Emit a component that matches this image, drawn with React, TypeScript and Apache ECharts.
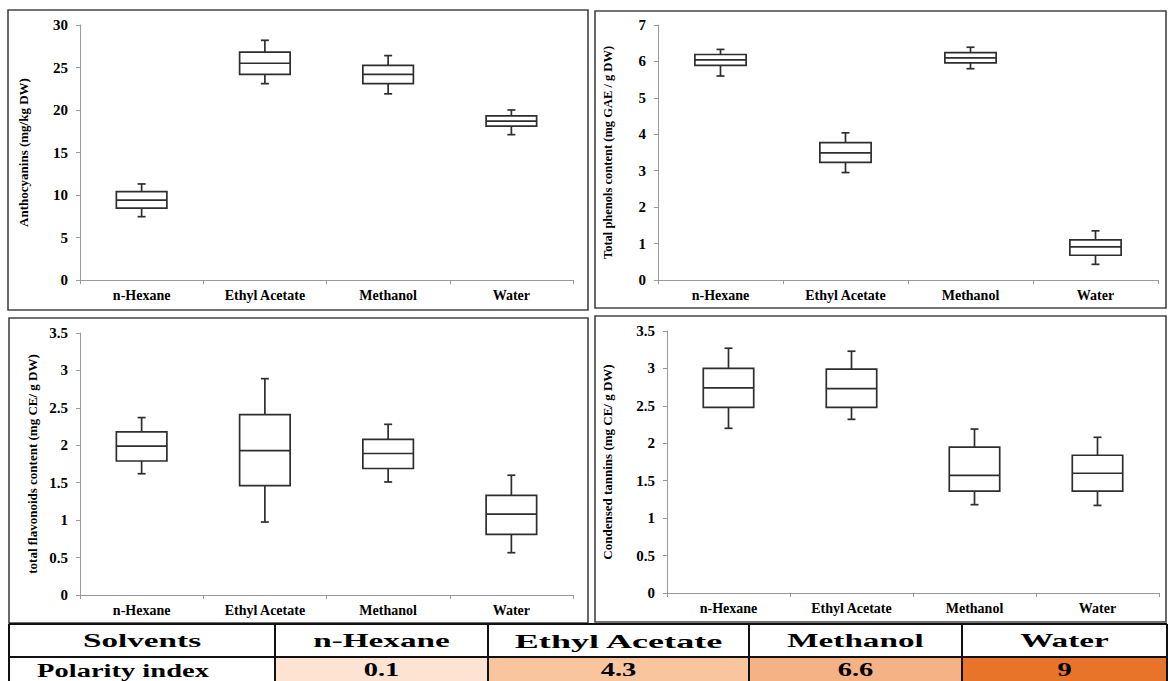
import React, { useEffect, useRef } from "react";
import * as echarts from "echarts";

const categories = ["n-Hexane", "Ethyl Acetate", "Methanol", "Water"];

// each row: [min, Q1, median, Q3, max]
const anthocyanins = [
  [7.45, 8.45, 9.4, 10.4, 11.3],
  [23.1, 24.2, 25.5, 26.8, 28.2],
  [21.9, 23.1, 24.2, 25.25, 26.4],
  [17.1, 18.1, 18.7, 19.3, 20.0],
];
const phenols = [
  [5.6, 5.89, 6.04, 6.19, 6.33],
  [2.95, 3.23, 3.49, 3.77, 4.04],
  [5.8, 5.96, 6.1, 6.24, 6.39],
  [0.43, 0.68, 0.91, 1.1, 1.35],
];
const flavonoids = [
  [1.62, 1.79, 1.99, 2.18, 2.37],
  [0.975, 1.46, 1.93, 2.41, 2.89],
  [1.51, 1.69, 1.89, 2.08, 2.28],
  [0.565, 0.81, 1.08, 1.33, 1.6],
];
const tannins = [
  [2.2, 2.48, 2.74, 3.0, 3.27],
  [2.32, 2.48, 2.73, 2.99, 3.23],
  [1.18, 1.36, 1.57, 1.95, 2.19],
  [1.17, 1.36, 1.6, 1.84, 2.08],
];

const panelData = [anthocyanins, phenols, flavonoids, tannins];
const yMaxes = [30, 7, 3.5, 3.5];
const yIntervals = [5, 1, 0.5, 0.5];
const yNames = [
  "Anthocyanins (mg/kg DW)",
  "Total phenols content (mg GAE / g DW)",
  "total flavonoids content (mg CE/ g DW)",
  "Condensed tannins (mg CE/ g DW)",
];

const tableHeader = ["Solvents", ...categories];
const polarityLabel = "Polarity index";
const polarityIndex = ["0.1", "4.3", "6.6", "9"];
const polarityColors = ["#FCE3D2", "#F8C59F", "#F4B285", "#E8742A"];

// layout
const grids = [
  { left: 80, top: 25, width: 493, height: 255 },
  { left: 658, top: 25, width: 500, height: 255 },
  { left: 80, top: 333, width: 493, height: 262 },
  { left: 667, top: 331, width: 492, height: 262 },
];
const nameGaps = [50, 44, 41, 53];
const nameSizes = [13, 12.5, 13, 13];
const panels = [
  { x: 8, y: 10, w: 580, h: 300 },
  { x: 595, y: 11, w: 571, h: 297 },
  { x: 9, y: 318, w: 579, h: 305 },
  { x: 595, y: 316, w: 571, h: 306 },
];
const colX = [9, 275, 488, 749, 962, 1167];
const rowY = [624, 657, 681];

const STROKE = "#2e2e2e";
const SERIF = "Liberation Serif";

function renderBox(params: any, api: any) {
  const cat = api.value(0);
  const lo = api.coord([cat, api.value(1)]);
  const q1 = api.coord([cat, api.value(2)]);
  const med = api.coord([cat, api.value(3)]);
  const q3 = api.coord([cat, api.value(4)]);
  const hi = api.coord([cat, api.value(5)]);
  const band = api.size([1, 0])[0];
  const bw = band * 0.41;
  const cap = 8;
  const x = lo[0];
  const style = { stroke: STROKE, lineWidth: 1.7, fill: null };
  return {
    type: "group",
    children: [
      { type: "line", shape: { x1: x, y1: q3[1], x2: x, y2: hi[1] }, style },
      { type: "line", shape: { x1: x - cap / 2, y1: hi[1], x2: x + cap / 2, y2: hi[1] }, style },
      { type: "line", shape: { x1: x, y1: q1[1], x2: x, y2: lo[1] }, style },
      { type: "line", shape: { x1: x - cap / 2, y1: lo[1], x2: x + cap / 2, y2: lo[1] }, style },
      {
        type: "rect",
        shape: { x: x - bw / 2, y: q3[1], width: bw, height: q1[1] - q3[1] },
        style: { stroke: STROKE, lineWidth: 1.7, fill: "#fff" },
      },
      { type: "line", shape: { x1: x - bw / 2, y1: med[1], x2: x + bw / 2, y2: med[1] }, style },
    ],
  };
}

function buildOption() {
  const grid = grids.map((g) => ({ ...g, containLabel: false }));
  const xAxis = grids.map((_, i) => ({
    type: "category",
    gridIndex: i,
    data: categories,
    axisLine: { show: true, lineStyle: { color: "#999", width: 1 } },
    axisTick: { show: true, length: 4, lineStyle: { color: "#999" } },
    axisLabel: {
      color: "#000",
      fontFamily: SERIF,
      fontWeight: "bold",
      fontSize: 14,
      margin: 8,
      interval: 0,
    },
    splitLine: { show: false },
  }));
  const yAxis = grids.map((_, i) => ({
    type: "value",
    gridIndex: i,
    min: 0,
    max: yMaxes[i],
    interval: yIntervals[i],
    name: yNames[i],
    nameLocation: "middle",
    nameRotate: 90,
    nameGap: nameGaps[i],
    nameTextStyle: {
      color: "#000",
      fontFamily: SERIF,
      fontWeight: "bold",
      fontSize: nameSizes[i],
    },
    axisLine: { show: true, lineStyle: { color: "#999", width: 1 } },
    axisTick: { show: true, length: 4, lineStyle: { color: "#999" } },
    axisLabel: {
      color: "#000",
      fontFamily: SERIF,
      fontWeight: "bold",
      fontSize: 15,
      margin: 12,
    },
    splitLine: { show: false },
  }));
  const series = panelData.map((rows, i) => ({
    type: "custom",
    xAxisIndex: i,
    yAxisIndex: i,
    renderItem: renderBox,
    encode: { x: 0, y: [1, 2, 3, 4, 5] },
    data: rows.map((r, k) => [k, ...r]),
    silent: true,
  }));

  const graphic: any[] = [];
  panels.forEach((p) => {
    graphic.push({
      type: "rect",
      shape: { x: p.x, y: p.y, width: p.w, height: p.h },
      style: { fill: null, stroke: "#444", lineWidth: 1.6 },
      silent: true,
    });
  });
  // table fills
  graphic.push({
    type: "rect",
    shape: { x: colX[0], y: rowY[0], width: colX[5] - colX[0], height: rowY[2] - rowY[0] },
    style: { fill: "#fff" },
    silent: true,
  });
  polarityColors.forEach((c, k) => {
    graphic.push({
      type: "rect",
      shape: { x: colX[k + 1], y: rowY[1], width: colX[k + 2] - colX[k + 1], height: rowY[2] - rowY[1] + 2 },
      style: { fill: c },
      silent: true,
    });
  });
  // table lines
  const lineStyle = { stroke: "#111", lineWidth: 2 };
  graphic.push({ type: "line", shape: { x1: colX[0], y1: rowY[0], x2: colX[5], y2: rowY[0] }, style: lineStyle, silent: true });
  graphic.push({ type: "line", shape: { x1: colX[0], y1: rowY[1], x2: colX[5], y2: rowY[1] }, style: lineStyle, silent: true });
  colX.forEach((x) => {
    graphic.push({ type: "line", shape: { x1: x, y1: rowY[0], x2: x, y2: rowY[2] + 2 }, style: lineStyle, silent: true });
  });
  // table texts
  const textEl = (text: string, cx: number, cy: number, size: number, sx: number) => ({
    type: "text",
    x: cx,
    y: cy,
    scaleX: sx,
    silent: true,
    style: {
      text,
      fill: "#000",
      font: `bold ${size}px "Liberation Serif"`,
      align: "center",
      verticalAlign: "middle",
      textAlign: "center",
      textVerticalAlign: "middle",
    },
  });
  const headerScale = [1.75, 1.75, 1.9, 1.75, 1.75];
  tableHeader.forEach((t, k) => {
    graphic.push(textEl(t, (colX[k] + colX[k + 1]) / 2, 641, 19, headerScale[k]));
  });
  graphic.push(textEl(polarityLabel, 123, 670, 19, 1.5));
  polarityIndex.forEach((t, k) => {
    graphic.push(textEl(t, (colX[k + 1] + colX[k + 2]) / 2, 669, 19, 1.5));
  });

  return {
    animation: false,
    backgroundColor: "#fff",
    grid,
    xAxis,
    yAxis,
    series,
    graphic,
  };
}

export default function App() {
  const ref = useRef<HTMLDivElement>(null);
  useEffect(() => {
    if (!ref.current) return;
    const chart = echarts.init(ref.current, undefined, { renderer: "svg" });
    chart.setOption(buildOption() as any);
    return () => chart.dispose();
  }, []);
  return (
    <div
      ref={ref}
      style={{ position: "absolute", left: 0, top: 0, width: 1168, height: 681 }}
    />
  );
}
